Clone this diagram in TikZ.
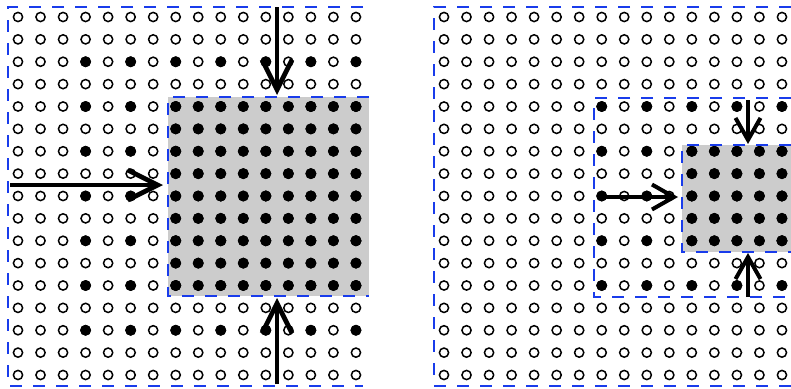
\documentclass[tikz,border=0pt]{standalone}
\usepackage{tikz}
\usetikzlibrary{arrows.meta}
\definecolor{myblue}{RGB}{25,60,235}
\definecolor{mygray}{RGB}{204,204,204}
\tikzset{
  opendot/.style={draw=black, line width=1.5pt, fill=white},
  fulldot/.style={fill=black},
  frame/.style={draw=myblue, line width=2.6pt, dash pattern=on 12pt off 11pt},
  bigarrow/.style={-{Straight Barb[length=30pt, width=30pt]}, line width=4.8pt},
  smallarrow/.style={-{Straight Barb[length=22pt, width=25pt]}, line width=4pt}
}
\def\dx{22.53}
\def\dy{22.375}

\begin{document}
\begin{tikzpicture}[x=1pt, y=-1pt]
  \useasboundingbox (0,0) rectangle (791,388);

  % gray blocks
  \fill[mygray] (168,97) rectangle (369,296);
  \fill[mygray] (682,145) rectangle (791,252);

  % left grid
  \foreach \c in {0,...,15}
    \foreach \r in {0,...,16}
      \draw[opendot] ({18+\dx*\c},{17+\dy*\r}) circle (4.6pt);
  \foreach \c in {3,5,...,15}
    \foreach \r in {2,4,...,14}
      \fill[fulldot] ({18+\dx*\c},{17+\dy*\r}) circle (5.5pt);
  \foreach \c in {7,...,15}
    \foreach \r in {4,...,12}
      \fill[fulldot] ({18+\dx*\c},{17+\dy*\r}) circle (5.5pt);

  % right grid
  \foreach \c in {0,...,15}
    \foreach \r in {0,...,16}
      \draw[opendot] ({444+\dx*\c},{17+\dy*\r}) circle (4.6pt);
  \foreach \c in {7,9,...,15}
    \foreach \r in {4,6,...,12}
      \fill[fulldot] ({444+\dx*\c},{17+\dy*\r}) circle (5.5pt);
  \foreach \c in {11,...,15}
    \foreach \r in {6,...,10}
      \fill[fulldot] ({444+\dx*\c},{17+\dy*\r}) circle (5.5pt);

  % frames
  \draw[frame] (363,7) -- (8,7) -- (8,386) -- (363,386);
  \draw[frame] (369,97) -- (168,97) -- (168,296) -- (369,296);
  \draw[frame] (791,7) -- (434,7) -- (434,386) -- (791,386);
  \draw[frame] (791,98) -- (594,98) -- (594,297) -- (791,297);
  \draw[frame] (791,145) -- (682,145) -- (682,252) -- (791,252);

  % arrow ends
  \coordinate (topL) at (277,7);
  \coordinate (topLend) at (277,95);
  \coordinate (westL) at (10,185);
  \coordinate (westLend) at (163,185);
  \coordinate (botL) at (277,384);
  \coordinate (botLend) at (277,298);
  \coordinate (westR) at (597,197);
  \coordinate (westRend) at (678,197);
  \coordinate (topR) at (748,100);
  \coordinate (topRend) at (748,144);
  \coordinate (botR) at (748,297);
  \coordinate (botRend) at (748,253);

  \draw[bigarrow] (topL) -- (topLend);
  \draw[bigarrow] (westL) -- (westLend);
  \draw[bigarrow] (botL) -- (botLend);
  \draw[smallarrow] (westR) -- (westRend);
  \draw[smallarrow] (topR) -- (topRend);
  \draw[smallarrow] (botR) -- (botRend);
\end{tikzpicture}
\end{document}
